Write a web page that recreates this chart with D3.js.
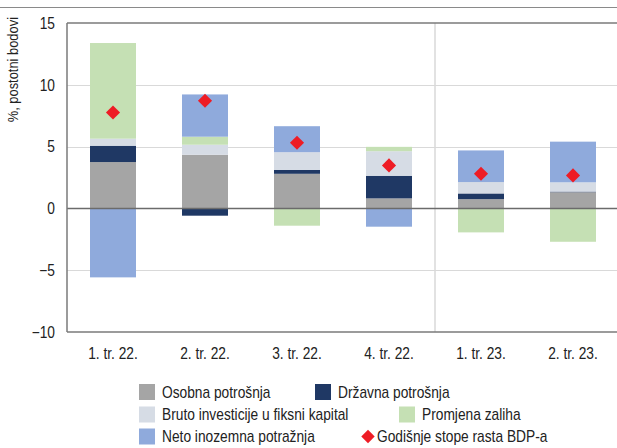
<!DOCTYPE html>
<html>
<head>
<meta charset="utf-8">
<script src="https://cdn.jsdelivr.net/npm/d3@7"></script>
<style>
  html, body { margin: 0; padding: 0; background: #fff; }
  svg { display: block; font-family: "Liberation Sans", Arial, sans-serif; }
</style>
</head>
<body>
<div id="chart"></div>
<script>
// Quarters on the x axis
const quarters = ["1. tr. 22.", "2. tr. 22.", "3. tr. 22.", "4. tr. 22.", "1. tr. 23.", "2. tr. 23."];

// Contributions to GDP growth, percentage points
const osobna   = [3.75, 4.34, 2.80, 0.81, 0.75, 1.31];
const drzavna  = [1.32, -0.59, 0.32, 1.83, 0.46, 0.05];
const bruto    = [0.57, 0.81, 1.43, 1.99, 0.92, 0.75];
const zalihe   = [7.74, 0.65, -1.40, 0.35, -1.94, -2.70];
const inozemna = [-5.58, 3.42, 2.10, -1.48, 2.56, 3.29];

// Annual GDP growth rate
const bdp = [7.76, 8.71, 5.31, 3.48, 2.80, 2.67];

const yTicks = [-10, -5, 0, 5, 10, 15];

const series = [
  { key: "osobna",   name: "Osobna potrošnja",                   color: "#a5a5a5", values: osobna },
  { key: "drzavna",  name: "Državna potrošnja",                  color: "#1f3864", values: drzavna },
  { key: "bruto",    name: "Bruto investicije u fiksni kapital", color: "#d6dce5", values: bruto },
  { key: "zalihe",   name: "Promjena zaliha",                    color: "#c5e0b4", values: zalihe },
  { key: "inozemna", name: "Neto inozemna potražnja",            color: "#8faadc", values: inozemna }
];

const width = 617, height = 448;
const plotLeft = 67, plotTop = 23, plotW = 552, plotBottom = 332;
const narrow = 0.86; // squeeze text to look like a condensed face

const rows = quarters.map((q, i) => {
  const r = { quarter: q };
  series.forEach(s => { r[s.key] = s.values[i]; });
  return r;
});

const svg = d3.select("#chart").append("svg")
  .attr("width", width)
  .attr("height", height);

const x = d3.scaleBand().domain(quarters).range([plotLeft, plotLeft + plotW]).paddingInner(0.5).paddingOuter(0.25);
const y = d3.scaleLinear().domain([-10, 15]).range([plotBottom, plotTop]);

// decorative line on top
svg.append("line")
  .attr("x1", 0).attr("x2", width)
  .attr("y1", 7.5).attr("y2", 7.5)
  .attr("stroke", "#8a8a8a").attr("stroke-width", 1);

// gridlines
svg.append("g")
  .selectAll("line")
  .data(yTicks.filter(t => t !== 0 && t !== -10 && t !== 15))
  .join("line")
  .attr("x1", plotLeft).attr("x2", plotLeft + plotW)
  .attr("y1", d => Math.round(y(d)) + 0.5).attr("y2", d => Math.round(y(d)) + 0.5)
  .attr("stroke", "#d9d9d9").attr("stroke-width", 1.2);

// divider between 2022 and 2023
const xDiv = x(quarters[4]) - x.step() * x.paddingInner() / 2;
svg.append("line")
  .attr("x1", xDiv).attr("x2", xDiv)
  .attr("y1", plotTop).attr("y2", plotBottom)
  .attr("stroke", "#d9d9d9").attr("stroke-width", 1.5);

// stacked bars
const stack = d3.stack()
  .keys(series.map(s => s.key))
  .offset(d3.stackOffsetDiverging);

const layers = stack(rows);

svg.append("g")
  .selectAll("g")
  .data(layers)
  .join("g")
  .attr("fill", (d, i) => series[i].color)
  .selectAll("rect")
  .data(d => d)
  .join("rect")
  .attr("x", d => x(d.data.quarter))
  .attr("width", x.bandwidth())
  .attr("y", d => y(Math.max(d[0], d[1])))
  .attr("height", d => Math.abs(y(d[0]) - y(d[1])));

// zero line
svg.append("line")
  .attr("x1", plotLeft).attr("x2", plotLeft + plotW)
  .attr("y1", y(0)).attr("y2", y(0))
  .attr("stroke", "#6b6b6b").attr("stroke-width", 1.5);

// frame: left, top, bottom
const frame = svg.append("g").attr("stroke", "#7a7a7a").attr("stroke-width", 1.5).attr("fill", "none");
frame.append("line").attr("x1", plotLeft).attr("x2", plotLeft + plotW).attr("y1", y(15)).attr("y2", y(15));
frame.append("line").attr("x1", plotLeft).attr("x2", plotLeft + plotW).attr("y1", y(-10)).attr("y2", y(-10));
frame.append("line").attr("x1", plotLeft).attr("x2", plotLeft).attr("y1", y(15)).attr("y2", y(-10));

// GDP growth diamonds
const diamond = d3.symbol().type(d3.symbolSquare).size(100);
svg.append("g")
  .selectAll("path")
  .data(bdp)
  .join("path")
  .attr("d", diamond)
  .attr("transform", (d, i) => `translate(${x(quarters[i]) + x.bandwidth() / 2},${y(d)}) rotate(45)`)
  .attr("fill", "#ee1c25");

// y axis labels
svg.append("g")
  .selectAll("text")
  .data(yTicks)
  .join("text")
  .attr("transform", d => `translate(55,${y(d)}) scale(${narrow},1)`)
  .attr("dy", "0.36em")
  .attr("text-anchor", "end")
  .attr("font-size", 16)
  .attr("fill", "#222")
  .text(d => d < 0 ? "\u2212" + Math.abs(d) : d);

// y axis title
svg.append("text")
  .attr("transform", `translate(18,17) rotate(-90) scale(${narrow},1)`)
  .attr("text-anchor", "end")
  .attr("font-size", 15)
  .attr("fill", "#222")
  .text("%, postotni bodovi");

// x axis labels
svg.append("g")
  .selectAll("text")
  .data(quarters)
  .join("text")
  .attr("transform", d => `translate(${x(d) + x.bandwidth() / 2},359) scale(${narrow},1)`)
  .attr("text-anchor", "middle")
  .attr("font-size", 16)
  .attr("fill", "#222")
  .text(d => d);

// legend
const legendItems = [
  { s: series[0], x: 139, row: 0 },
  { s: series[1], x: 315, row: 0 },
  { s: series[2], x: 139, row: 1 },
  { s: series[3], x: 399, row: 1 },
  { s: series[4], x: 139, row: 2 }
];
const rowY = [392, 414.5, 436.5];

const legend = svg.append("g").attr("font-size", 16).attr("fill", "#222");
legendItems.forEach(it => {
  legend.append("rect")
    .attr("x", it.x).attr("y", rowY[it.row] - 8)
    .attr("width", 16).attr("height", 16)
    .attr("fill", it.s.color);
  legend.append("text")
    .attr("transform", `translate(${it.x + 23},${rowY[it.row]}) scale(${narrow},1)`)
    .attr("dy", "0.36em")
    .text(it.s.name);
});
legend.append("path")
  .attr("d", d3.symbol().type(d3.symbolSquare).size(90))
  .attr("transform", `translate(368,${rowY[2]}) rotate(45)`)
  .attr("fill", "#ee1c25");
legend.append("text")
  .attr("transform", `translate(377,${rowY[2]}) scale(${narrow},1)`)
  .attr("dy", "0.36em")
  .text("Godišnje stope rasta BDP-a");
</script>
</body>
</html>
